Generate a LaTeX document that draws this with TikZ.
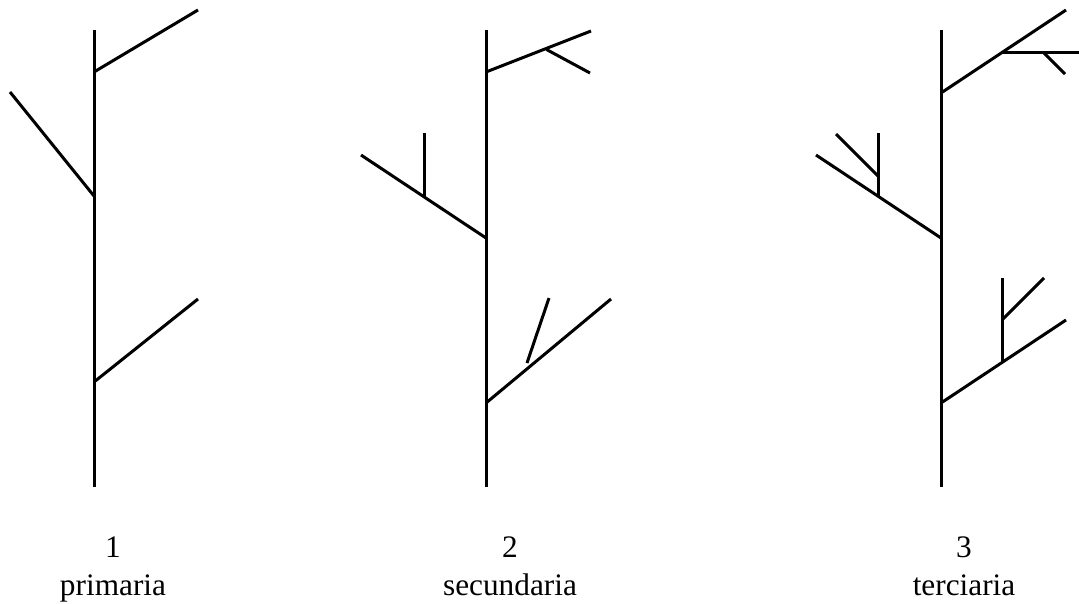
\documentclass[tikz,border=0pt]{standalone}
\usepackage{fontspec}
\setmainfont{Liberation Serif}
\begin{document}
\begin{tikzpicture}[x=1pt,y=-1pt,
  br/.style={line width=3pt,black},
  lbl/.style={anchor=base,inner sep=0pt,font=\fontsize{31.3}{36}\selectfont}]
\useasboundingbox (0,0) rectangle (1079,603);
% Tree 1
\coordinate (a0) at (94,30); \coordinate (a1) at (94,487);
\coordinate (a2) at (94,72); \coordinate (a3) at (198,10);
\coordinate (a4) at (94,196); \coordinate (a5) at (10,92);
\coordinate (a6) at (94,382); \coordinate (a7) at (198,299);
\draw[br] (a0) -- (a1);
\draw[br] (a2) -- (a3);
\draw[br] (a4) -- (a5);
\draw[br] (a6) -- (a7);
% Tree 2
\coordinate (b0) at (486,30); \coordinate (b1) at (486,487);
\coordinate (b2) at (486,72); \coordinate (b3) at (591,31);
\coordinate (b4) at (546.5,49.5); \coordinate (b5) at (590,73);
\coordinate (b6) at (486,238); \coordinate (b7) at (361,155);
\coordinate (b8) at (424,197); \coordinate (b9) at (424,133);
\coordinate (b10) at (486,403); \coordinate (b11) at (611,299);
\coordinate (b12) at (527,363); \coordinate (b13) at (549,298);
\draw[br] (b0) -- (b1);
\draw[br] (b2) -- (b3);
\draw[br] (b4) -- (b5);
\draw[br] (b6) -- (b7);
\draw[br] (b8) -- (b9);
\draw[br] (b10) -- (b11);
\draw[br] (b12) -- (b13);
% Tree 3
\coordinate (c0) at (941,30); \coordinate (c1) at (941,487);
\coordinate (c2) at (941,93); \coordinate (c3) at (1066,10);
\coordinate (c4) at (1002,52); \coordinate (c5) at (1079,52);
\coordinate (c6) at (1043,52); \coordinate (c7) at (1065,74);
\coordinate (c8) at (941,238); \coordinate (c9) at (816,155);
\coordinate (c10) at (878,197); \coordinate (c11) at (878,133);
\coordinate (c12) at (878,176); \coordinate (c13) at (836,134);
\coordinate (c14) at (941,403); \coordinate (c15) at (1066,320);
\coordinate (c16) at (1002,362); \coordinate (c17) at (1002,278);
\coordinate (c18) at (1002,320); \coordinate (c19) at (1044,278);
\draw[br] (c0) -- (c1);
\draw[br] (c2) -- (c3);
\draw[br] (c4) -- (c5);
\draw[br] (c6) -- (c7);
\draw[br] (c8) -- (c9);
\draw[br] (c10) -- (c11);
\draw[br] (c12) -- (c13);
\draw[br] (c14) -- (c15);
\draw[br] (c16) -- (c17);
\draw[br] (c18) -- (c19);
% Labels
\node[lbl] (n1) at (113,557) {1};
\node[lbl] (t1) at (113,595) {primaria};
\node[lbl] (n2) at (510,557) {2};
\node[lbl] (t2) at (510,595) {secundaria};
\node[lbl] (n3) at (964,557) {3};
\node[lbl] (t3) at (964,595) {terciaria};
\end{tikzpicture}
\end{document}
